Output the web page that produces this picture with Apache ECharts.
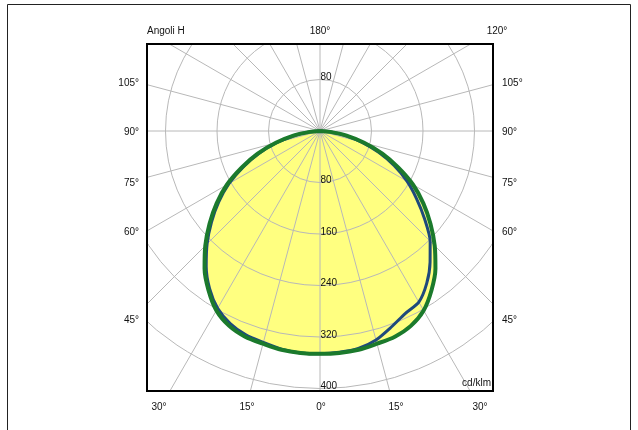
<!DOCTYPE html>
<html>
<head>
<meta charset="utf-8">
<script src="https://cdn.jsdelivr.net/npm/echarts@6/dist/echarts.min.js"></script>
<style>
  html, body { margin: 0; padding: 0; background: #fff; }
  #chart { width: 638px; height: 430px; }
</style>
</head>
<body>
<div id="chart"></div>
<script>
// gamma angles, 0 = straight down (nadir)
const angles = [0, 5, 10, 15, 20, 25, 30, 35, 40, 45, 50, 55, 60, 65, 70, 75, 80, 85, 90];

// cd/klm, C0-C180 plane (green, filled)
const greenLeft  = [346, 346, 345, 342, 340, 334, 322, 302, 279, 252, 224, 196, 167, 134, 103, 71, 42, 16, 0];
const greenRight = [346, 346, 345, 342, 340, 334, 322, 302, 279, 252, 224, 196, 167, 134, 103, 71, 42, 16, 0];
// cd/klm, C90-C270 plane (blue)
const blueLeft  = [346, 346, 344, 340, 337, 330, 318, 299, 275, 248, 220, 192, 163, 131, 100, 69, 40, 15, 0];
const blueRight = [346, 345, 343, 336, 324, 313, 307, 289, 266, 242, 212, 183, 156, 127, 97, 67, 39, 15, 0];

const ringLabels = [80, 160, 240, 320, 400];
const ringLabelsUp = [80];
const topLabels = ['Angoli H', '180°', '120°'];
const sideLabels = ['105°', '90°', '75°', '60°', '45°'];
const bottomLabels = ['30°', '15°', '0°', '15°', '30°'];
const unitLabel = 'cd/klm';

// left side goes to negative angles, right side to positive
function loop(left, right) {
    const pts = [];
    for (let i = angles.length - 1; i > 0; i--) pts.push([left[i], -angles[i]]);
    for (let i = 0; i < angles.length; i++) pts.push([right[i], angles[i]]);
    return pts;
}

const gridColor = '#b8b8b8';
const textColor = '#111';
const font = 'Liberation Sans, Arial, sans-serif';
const box = { x: 147, y: 44, w: 346, h: 347 };

const chart = echarts.init(document.getElementById('chart'));

const graphics = [
    { type: 'rect', shape: { x: 0, y: 0, width: 638, height: box.y }, style: { fill: '#fff' }, z: 100, silent: true },
    { type: 'rect', shape: { x: 0, y: box.y + box.h, width: 638, height: 430 - box.y - box.h }, style: { fill: '#fff' }, z: 100, silent: true },
    { type: 'rect', shape: { x: 0, y: 0, width: box.x, height: 430 }, style: { fill: '#fff' }, z: 100, silent: true },
    { type: 'rect', shape: { x: box.x + box.w, y: 0, width: 638 - box.x - box.w, height: 430 }, style: { fill: '#fff' }, z: 100, silent: true },
    { type: 'rect', shape: { x: box.x, y: box.y, width: box.w, height: box.h }, style: { fill: 'none', stroke: '#000', lineWidth: 2 }, z: 101, silent: true },
    { type: 'rect', shape: { x: 7.5, y: 4.5, width: 623, height: 440 }, style: { fill: 'none', stroke: '#222', lineWidth: 1 }, z: 101, silent: true }
];

function addText(text, x, y, align) {
    graphics.push({
        type: 'text', x: x, y: y, z: 102, silent: true,
        style: { text: text, fill: textColor, fontSize: 10, fontFamily: font, align: align, verticalAlign: 'middle' }
    });
}

addText(topLabels[0], 147, 31, 'left');
addText(topLabels[1], 320, 31, 'center');
addText(topLabels[2], 497, 31, 'center');
const sideY = [83, 132, 183, 232, 320];
sideLabels.forEach((t, i) => {
    addText(t, 139, sideY[i], 'right');
    addText(t, 502, sideY[i], 'left');
});
const bottomX = [159, 247, 321, 396, 480];
bottomLabels.forEach((t, i) => addText(t, bottomX[i], 407, 'center'));
addText(unitLabel, 491, 383, 'right');

const option = {
    animation: false,
    polar: { center: [320, 131], radius: 480 * 51.5 / 80 },
    angleAxis: {
        type: 'value', min: -180, max: 180, interval: 15,
        startAngle: 90, clockwise: false, z: 1,
        axisLine: { show: false }, axisTick: { show: false }, axisLabel: { show: false },
        splitLine: { show: true, lineStyle: { color: gridColor, width: 1 } }
    },
    radiusAxis: {
        type: 'value', min: 0, max: 480, interval: 80, z: 1,
        axisLine: { show: false }, axisTick: { show: false }, axisLabel: { show: false },
        splitLine: { show: true, lineStyle: { color: [gridColor, gridColor, gridColor, gridColor, gridColor, gridColor, 'rgba(0,0,0,0)'], width: 1 } }
    },
    series: [
        {
            type: 'line', coordinateSystem: 'polar', data: loop(greenLeft, greenRight),
            symbol: 'none', smooth: 0.3, z: 0, silent: true,
            lineStyle: { width: 0 }, areaStyle: { color: '#ffff80', opacity: 1 }
        },
        {
            type: 'line', coordinateSystem: 'polar', data: loop(blueLeft, blueRight),
            symbol: 'none', smooth: 0.25, z: 3, silent: true,
            lineStyle: { color: '#1f4a7c', width: 3 }
        },
        {
            type: 'line', coordinateSystem: 'polar', data: loop(greenLeft, greenRight),
            symbol: 'none', smooth: 0.3, z: 4, silent: true,
            lineStyle: { color: '#1b7a2c', width: 4 }
        },
        {
            type: 'scatter', coordinateSystem: 'polar', z: 5, silent: true,
            data: ringLabels.map(v => [v, 0]).concat(ringLabelsUp.map(v => [v, 180])),
            symbolSize: 1, itemStyle: { color: 'rgba(0,0,0,0)' },
            label: {
                show: true, position: 'right', distance: 0, offset: [0, -2],
                formatter: p => String(p.value[0]),
                color: textColor, opacity: 1, textBorderWidth: 0,
                fontSize: 10, fontFamily: font
            }
        }
    ],
    graphic: graphics
};

chart.setOption(option);
</script>
</body>
</html>
